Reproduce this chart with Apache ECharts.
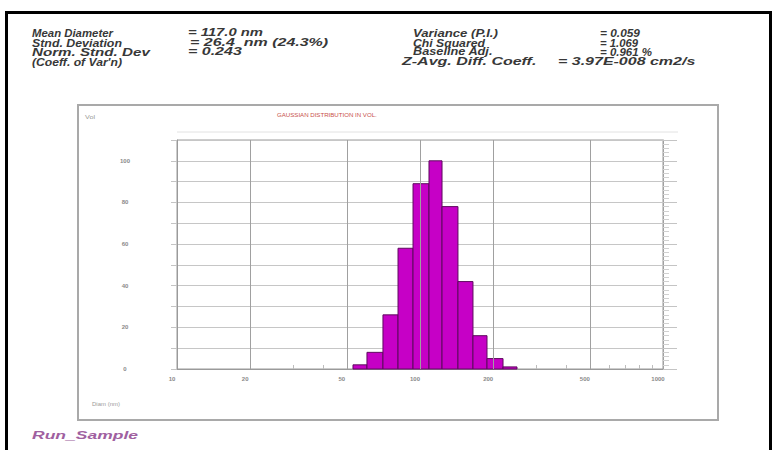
<!DOCTYPE html>
<html><head><meta charset="utf-8">
<script src="https://cdn.jsdelivr.net/npm/echarts@6/dist/echarts.min.js"></script>
<style>html,body{margin:0;padding:0;background:#fff}#c{width:777px;height:450px}</style>
</head><body><div id="c"></div>
<script>
// ---------------- data ----------------
const binEdgesNm = [53.0, 60.5, 70.4, 81.2, 93.6, 108.9, 123.2, 143.3, 165.2, 188.7, 219.6, 250.7];
const binValues = [2, 8, 26, 58, 89, 100, 78, 42, 16, 5, 1];
const xTickLabelsNm = [10, 20, 50, 100, 200, 500, 1000];
const xGridNm = [20, 50, 100, 200, 500];
const xMinorTicksNm = [30, 40, 60, 70, 80, 90, 300, 400, 600, 700, 800, 900];
const yLabelValues = [0, 20, 40, 60, 80, 100];
const statLabelsLeft = ['Mean Diameter', 'Stnd. Deviation', 'Norm. Stnd. Dev', "(Coeff. of Var'n)"];
const statValuesLeft = ['= 117.0 nm', '= 26.4  nm (24.3%)', '= 0.243'];
const statLabelsRight = ['Variance (P.I.)', 'Chi Squared', 'Baseline Adj.', 'Z-Avg. Diff. Coeff.'];
const statValuesRight = ['= 0.059', '= 1.069', '= 0.961 %', '= 3.97E-008 cm2/s'];
const plotTitle = 'GAUSSIAN DISTRIBUTION IN VOL.';
const sampleName = 'Run_Sample';

// ---------------- layout ----------------
const rowY = [33, 43, 52, 62];
const leftLabelLayout = [[32, 81], [32, 90], [32, 118], [32, 90]];
const leftValueLayout = [[188, 75], [190, 155], [188, 64]];
const rightLabelLayout = [[413, 85], [413, 72], [413, 80], [402, 151]];
const rightValueLayout = [[600, 40], [600, 38], [600, 52], [558, 165]];

const FONT = '"Liberation Sans", Arial, sans-serif';
const mctx = document.createElement('canvas').getContext('2d');
function fitText(text, x, y, w, size, color, italic, bold, minS, maxS) {
  mctx.font = (italic ? 'italic ' : '') + (bold ? 'bold ' : '') + size + 'px ' + FONT;
  const nat = mctx.measureText(text).width || 1;
  let s = w / nat;
  if (minS !== undefined) s = Math.max(minS, Math.min(maxS, s));
  return {
    type: 'text', x: x, y: y, scaleX: s, silent: true,
    style: { text: text, fontFamily: FONT, fontSize: size, fontStyle: italic ? 'italic' : 'normal',
      fontWeight: bold ? 'bold' : 'normal', fill: color, align: 'left', verticalAlign: 'middle' }
  };
}

const graphics = [];
graphics.push({ type: 'rect', shape: { x: 6.5, y: 12.5, width: 764, height: 470 },
  style: { fill: 'none', stroke: '#000', lineWidth: 3 }, silent: true });
graphics.push({ type: 'rect', shape: { x: 78, y: 105, width: 640, height: 315 },
  style: { fill: 'none', stroke: '#a9a9a9', lineWidth: 2 }, silent: true });
graphics.push({ type: 'line', shape: { x1: 177, y1: 132, x2: 678, y2: 132 },
  style: { stroke: '#e2e2e2', lineWidth: 1 }, silent: true });

const headColor = '#383838';
const hs = 10;
statLabelsLeft.forEach((t, i) => graphics.push(fitText(t, leftLabelLayout[i][0], rowY[i], leftLabelLayout[i][1], hs, headColor, true, true, 1.0, 1.6)));
statValuesLeft.forEach((t, i) => graphics.push(fitText(t, leftValueLayout[i][0], rowY[i], leftValueLayout[i][1], hs, headColor, true, true, 1.0, 1.6)));
statLabelsRight.forEach((t, i) => graphics.push(fitText(t, rightLabelLayout[i][0], rowY[i], rightLabelLayout[i][1], hs, headColor, true, true, 1.0, 1.6)));
statValuesRight.forEach((t, i) => graphics.push(fitText(t, rightValueLayout[i][0], rowY[i], rightValueLayout[i][1], hs, headColor, true, true, 1.0, 1.6)));
graphics.push(fitText(plotTitle, 277, 115, 100, 6, '#c8504a', false, false));
graphics.push(fitText('Vol', 85, 117, 10, 5, '#9a9a9a', false, false));
graphics.push(fitText('Diam (nm)', 92, 404, 28, 5, '#9a9a9a', false, false));
graphics.push(fitText(sampleName, 32, 435, 106, 10, '#a060a0', true, true, 1.0, 1.8));

const L = v => Math.log10(v);
const barData = binValues.map((v, i) => [L(binEdgesNm[i]), L(binEdgesNm[i + 1]), v]);

const option = {
  animation: false,
  backgroundColor: '#fff',
  grid: { left: 177, top: 140, width: 486, height: 229, show: true, borderColor: '#9a9a9a', borderWidth: 1, backgroundColor: 'transparent' },
  xAxis: {
    type: 'value', min: 1, max: 3,
    axisLine: { show: true, lineStyle: { color: '#9a9a9a' } },
    axisTick: { show: true, inside: true, length: 4, customValues: xMinorTicksNm.map(L), lineStyle: { color: '#bdbdbd' } },
    axisLabel: { customValues: xTickLabelsNm.map(L), formatter: v => String(Math.round(Math.pow(10, v))),
      fontSize: 6, color: '#8a8a8a', fontWeight: 'bold', margin: 7, padding: [0, 10, 0, 0] },
    splitLine: { show: false }
  },
  yAxis: [{
    type: 'value', min: 0, max: 110, interval: 10,
    axisLine: { show: true, lineStyle: { color: '#9a9a9a' } },
    axisTick: { show: true, length: 6, lineStyle: { color: '#c4c4c4' } },
    axisLabel: { formatter: v => (yLabelValues.indexOf(v) >= 0 ? String(v) : ''), align: 'center', margin: 52,
      fontSize: 6, color: '#8a8a8a', fontWeight: 'bold', padding: [0, 0, 9, 0] },
    splitLine: { show: true, lineStyle: { color: '#c6c6c6', width: 1 } }
  }, {
    type: 'value', min: 0, max: 110, interval: 10, position: 'right',
    axisLine: { show: true, lineStyle: { color: '#a0a0a0' } },
    axisTick: { show: true, length: 14, lineStyle: { color: '#c4c4c4' } },
    minorTick: { show: true, splitNumber: 5, length: 6, lineStyle: { color: '#d0d0d0' } },
    axisLabel: { show: false },
    splitLine: { show: false }
  }],
  series: [{
    type: 'line', data: [], z: 1,
    markLine: { silent: true, symbol: 'none', label: { show: false },
      lineStyle: { color: '#a0a0a0', type: 'solid', width: 1 },
      data: xGridNm.map(v => ({ xAxis: L(v) })) }
  }, {
    type: 'custom', z: 3,
    data: barData,
    encode: { x: [0, 1], y: 2 },
    renderItem: function (params, api) {
      const p0 = api.coord([api.value(0), api.value(2)]);
      const p1 = api.coord([api.value(1), 0]);
      return { type: 'rect', shape: { x: p0[0], y: p0[1], width: p1[0] - p0[0], height: p1[1] - p0[1] },
        style: { fill: '#c600c6', stroke: '#5e0a5e', lineWidth: 1 } };
    }
  }],
  graphic: graphics
};
const chart = echarts.init(document.getElementById('c'), null, { renderer: 'svg' });
chart.setOption(option);
</script></body></html>
